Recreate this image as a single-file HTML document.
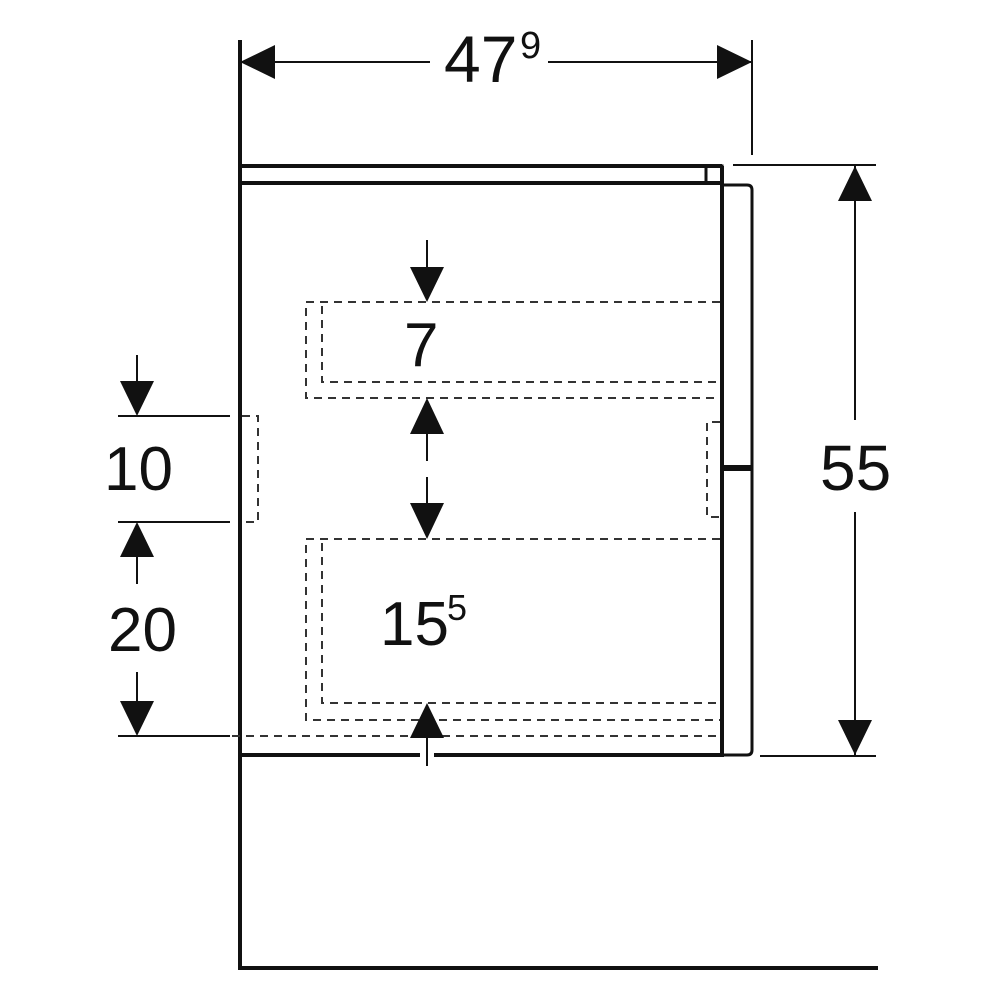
<!DOCTYPE html>
<html><head><style>body{margin:0;background:#fff}svg{display:block}text{font-family:"Liberation Sans",sans-serif;fill:#111}</style></head>
<body>
<svg width="1000" height="1000" viewBox="0 0 1000 1000" xmlns="http://www.w3.org/2000/svg">
<g stroke="#111" fill="none">
<line x1="240" y1="40" x2="240" y2="970" stroke-width="4"/>
<line x1="238" y1="968" x2="878" y2="968" stroke-width="4"/>
<line x1="240" y1="166" x2="722" y2="166" stroke-width="4"/>
<line x1="240" y1="183" x2="724" y2="183" stroke-width="4"/>
<rect x="706" y="166" width="16" height="17" stroke-width="3"/>
<line x1="722" y1="166" x2="722" y2="755" stroke-width="4"/>
<line x1="240" y1="755" x2="420" y2="755" stroke-width="4"/>
<line x1="434" y1="755" x2="724" y2="755" stroke-width="4"/>
<path d="M724 185 H747 Q752 185 752 190 V750 Q752 755 747 755 H724" stroke-width="3"/>
<line x1="724" y1="468" x2="752" y2="468" stroke-width="6"/>
<g stroke-width="2" stroke-dasharray="8,6" stroke="#333">
<path d="M720 302 H306 V398 H720"/>
<path d="M322 306 V382 H720"/>
<path d="M720 539 H306 V720 H720"/>
<path d="M322 543 V703 H720"/>
<line x1="232" y1="736" x2="720" y2="736"/>
<path d="M242 416 H258 V522 H242"/>
<path d="M720 422 H707 V517 H720"/>
</g>
<g stroke-width="2">
<line x1="240" y1="62" x2="430" y2="62"/>
<line x1="548" y1="62" x2="752" y2="62"/>
<line x1="752" y1="40" x2="752" y2="155"/>
<line x1="733" y1="165" x2="876" y2="165"/>
<line x1="760" y1="756" x2="876" y2="756"/>
<line x1="855" y1="165" x2="855" y2="420"/>
<line x1="855" y1="512" x2="855" y2="756"/>
<line x1="118" y1="416" x2="230" y2="416"/>
<line x1="118" y1="522" x2="230" y2="522"/>
<line x1="118" y1="736" x2="230" y2="736"/>
<line x1="137" y1="355" x2="137" y2="400"/>
<line x1="137" y1="540" x2="137" y2="584"/>
<line x1="137" y1="672" x2="137" y2="720"/>
<line x1="427" y1="240" x2="427" y2="290"/>
<line x1="427" y1="410" x2="427" y2="461"/>
<line x1="427" y1="477" x2="427" y2="525"/>
<line x1="427" y1="715" x2="427" y2="766"/>
</g>
</g>
<g fill="#111">
<polygon points="240,62 275,45 275,79"/>
<polygon points="752,62 717,45 717,79"/>
<polygon points="855,166 838,201 872,201"/>
<polygon points="855,755 838,720 872,720"/>
<polygon points="137,416 120,381 154,381"/>
<polygon points="137,522 120,557 154,557"/>
<polygon points="137,736 120,701 154,701"/>
<polygon points="427,302 410,267 444,267"/>
<polygon points="427,398 410,434 444,434"/>
<polygon points="427,539 410,503 444,503"/>
<polygon points="427,703 410,738 444,738"/>
</g>
<text x="444" y="82" font-size="66">47</text><text x="520" y="58" font-size="38">9</text>
<text x="820" y="490" font-size="64">55</text>
<text x="404" y="366" font-size="62">7</text>
<text x="104" y="490" font-size="62">10</text>
<text x="108" y="651" font-size="62">20</text>
<text x="380" y="645" font-size="62">15</text><text x="447" y="620" font-size="36">5</text>
</svg>
</body></html>
